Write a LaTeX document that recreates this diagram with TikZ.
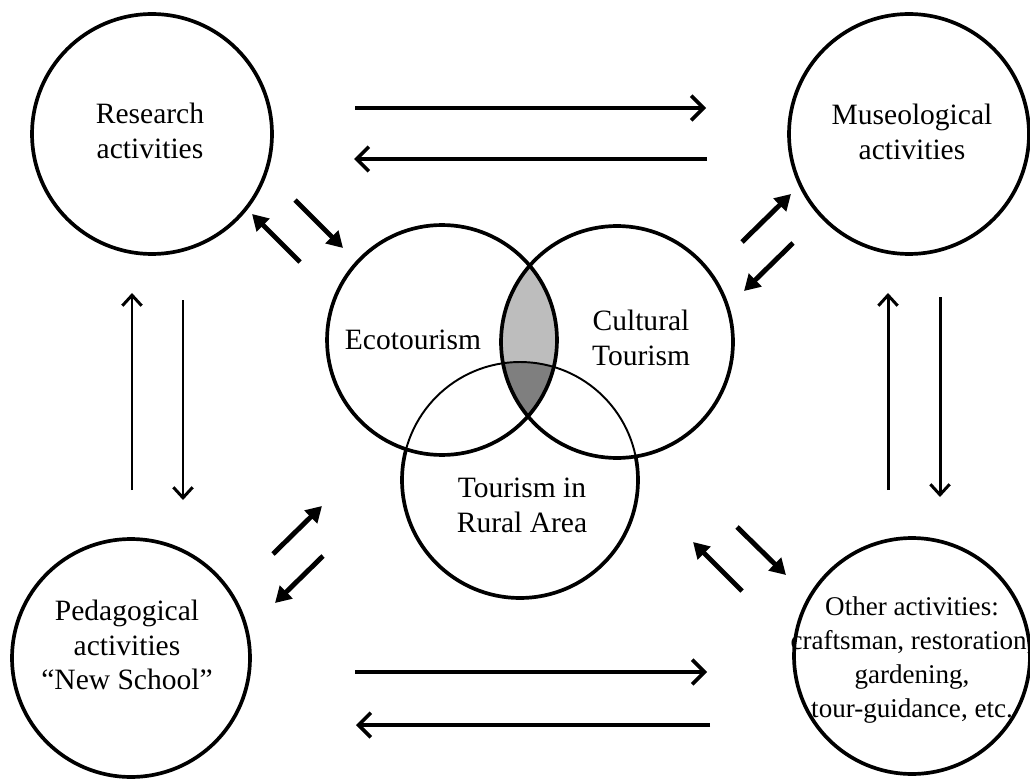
\documentclass[tikz,border=0pt]{standalone}
\usepackage{fontspec}
\setmainfont{Liberation Serif}
\usetikzlibrary{arrows.meta}
\definecolor{lightg}{HTML}{BDBDBD}
\definecolor{darkg}{HTML}{7F7F7F}
\begin{document}
\begin{tikzpicture}[x=0.02cm,y=-0.02cm,
  act/.style={circle,draw,line width=2.1pt,inner sep=0pt,minimum size=4.8cm},
  venn/.style={circle,draw,line width=2.1pt,inner sep=0pt},
  txt/.style={font=\fontsize{16.8}{19.8}\selectfont,align=center,inner sep=0pt},
  smalltxt/.style={font=\fontsize{15.4}{19.2}\selectfont,align=center,inner sep=0pt},
  longarr/.style={line width=2.1pt,-{Straight Barb[length=7pt,width=14pt]}},
  vertarr/.style={line width=1.7pt,-{Straight Barb[length=6pt,width=11pt]}},
  diagarr/.style={line width=2.8pt,-{Triangle[length=9pt,width=10pt]}}]
\useasboundingbox[fill=white] (0,0) rectangle (1030,780);

% activity circles
\node[act] (res) at (152,134) {};
\node[act] (mus) at (909,134) {};
\node[act,minimum size=4.76cm] (ped) at (131,658) {};
\node[act,minimum size=4.72cm] (oth) at (912,656) {};
\node[txt] (resT) at (150,131) {Research\\activities};
\node[txt] (musT) at (912,132) {Museological\\activities};
\node[txt] (pedT) at (127,645) {Pedagogical\\activities\\``New School''};
\node[smalltxt] (othT) at (912,660) {Other activities:\\craftsman, restoration,\\gardening,\\tour-guidance, etc.};

% venn diagram
\coordinate (ecoC) at (442,340);
\coordinate (culC) at (617,342);
\coordinate (rurC) at (520,480);
\begin{scope}
  \clip (ecoC) circle[radius=2.3cm];
  \fill[lightg] (culC) circle[radius=2.32cm];
\end{scope}
\begin{scope}
  \clip (ecoC) circle[radius=2.3cm];
  \clip (culC) circle[radius=2.32cm];
  \fill[darkg] (rurC) circle[radius=2.36cm];
\end{scope}
\node[venn,line width=1.1pt,minimum size=4.72cm] (rur) at (rurC) {};
\begin{scope}[even odd rule]
  \clip (-100,-100) rectangle (1200,900) (ecoC) circle[radius=2.3cm];
  \begin{scope}[even odd rule]
    \clip (-100,-100) rectangle (1200,900) (culC) circle[radius=2.32cm];
    \draw[line width=2.1pt] (rurC) circle[radius=2.36cm];
  \end{scope}
\end{scope}
\node[venn,minimum size=4.6cm] (eco) at (ecoC) {};
\node[venn,minimum size=4.64cm] (cul) at (culC) {};
\node[txt] (ecoT) at (413,340) {Ecotourism};
\node[txt] (culT) at (641,338) {Cultural\\Tourism};
\node[txt] (rurT) at (522,505) {Tourism in\\Rural Area};

% long horizontal arrows
\coordinate (t1a) at (355,108); \coordinate (t1b) at (706,108);
\coordinate (t2a) at (707,159); \coordinate (t2b) at (354,159);
\coordinate (b1a) at (355,672); \coordinate (b1b) at (707,672);
\coordinate (b2a) at (710,725); \coordinate (b2b) at (356,725);
\draw[longarr] (t1a) -- (t1b);
\draw[longarr] (t2a) -- (t2b);
\draw[longarr] (b1a) -- (b1b);
\draw[longarr] (b2a) -- (b2b);

% vertical arrows
\coordinate (l1a) at (132,490); \coordinate (l1b) at (132,293);
\coordinate (l2a) at (183,300); \coordinate (l2b) at (183,500);
\coordinate (r1a) at (888,490); \coordinate (r1b) at (888,293);
\coordinate (r2a) at (940,297); \coordinate (r2b) at (940,497);
\draw[vertarr] (l1a) -- (l1b);
\draw[vertarr] (l2a) -- (l2b);
\draw[vertarr] (r1a) -- (r1b);
\draw[vertarr] (r2a) -- (r2b);

% short diagonal arrows
\coordinate (d1a) at (300,262); \coordinate (d1b) at (252,214);
\coordinate (d2a) at (295,200); \coordinate (d2b) at (343,248);
\coordinate (d3a) at (742,242); \coordinate (d3b) at (791,194);
\coordinate (d4a) at (793,243); \coordinate (d4b) at (744,291);
\coordinate (d5a) at (273,554); \coordinate (d5b) at (322,506);
\coordinate (d6a) at (323,556); \coordinate (d6b) at (275,603);
\coordinate (d7a) at (742,591); \coordinate (d7b) at (693,542);
\coordinate (d8a) at (737,527); \coordinate (d8b) at (786,575);
\foreach \p in {1,...,8} {\draw[diagarr] (d\p a) -- (d\p b);}
\end{tikzpicture}
\end{document}
